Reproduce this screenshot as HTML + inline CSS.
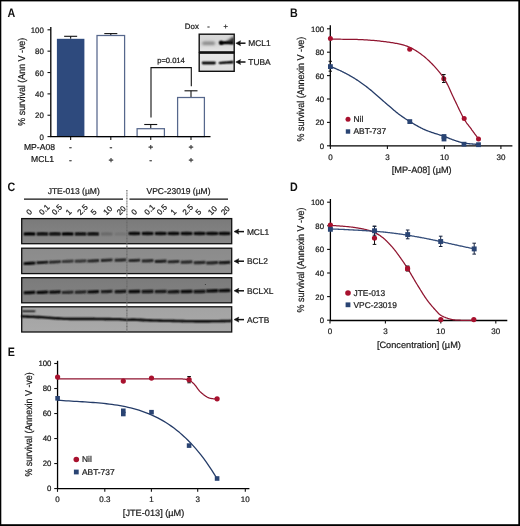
<!DOCTYPE html>
<html><head><meta charset="utf-8"><style>
html,body{margin:0;padding:0;background:#fff;width:520px;height:526px;overflow:hidden;}
svg{display:block;will-change:transform;}
text{font-family:"Liberation Sans", sans-serif;text-rendering:geometricPrecision;}
.t{stroke:#1a1a1a;stroke-width:0.22px;paint-order:stroke;}
</style></head><body>
<svg width="520" height="526" viewBox="0 0 520 526">
<rect x="0" y="0" width="520" height="526" fill="#fff"/>
<text x="0" y="0" font-size="12.3" font-weight="bold" fill="#111" transform="translate(7.50,17.20) scale(0.87,1)">A</text>
<line x1="50.80" y1="26.90" x2="50.80" y2="136.60" stroke="#000" stroke-width="1.3"/>
<line x1="47.50" y1="136.60" x2="50.80" y2="136.60" stroke="#111" stroke-width="1.1"/>
<text x="43.90" y="139.80" font-size="7.9" text-anchor="end" font-weight="normal" fill="#1a1a1a" class="t" >0</text>
<line x1="47.50" y1="115.24" x2="50.80" y2="115.24" stroke="#111" stroke-width="1.1"/>
<text x="43.90" y="118.44" font-size="7.9" text-anchor="end" font-weight="normal" fill="#1a1a1a" class="t" >20</text>
<line x1="47.50" y1="93.88" x2="50.80" y2="93.88" stroke="#111" stroke-width="1.1"/>
<text x="43.90" y="97.08" font-size="7.9" text-anchor="end" font-weight="normal" fill="#1a1a1a" class="t" >40</text>
<line x1="47.50" y1="72.52" x2="50.80" y2="72.52" stroke="#111" stroke-width="1.1"/>
<text x="43.90" y="75.72" font-size="7.9" text-anchor="end" font-weight="normal" fill="#1a1a1a" class="t" >60</text>
<line x1="47.50" y1="51.16" x2="50.80" y2="51.16" stroke="#111" stroke-width="1.1"/>
<text x="43.90" y="54.36" font-size="7.9" text-anchor="end" font-weight="normal" fill="#1a1a1a" class="t" >80</text>
<line x1="47.50" y1="29.80" x2="50.80" y2="29.80" stroke="#111" stroke-width="1.1"/>
<text x="43.90" y="33.00" font-size="7.9" text-anchor="end" font-weight="normal" fill="#1a1a1a" class="t" >100</text>
<text x="0" y="0" font-size="9.9" text-anchor="middle" fill="#1a1a1a" class="t" transform="translate(22.40,81.70) rotate(-90) scale(0.9,1)" dominant-baseline="central">% survival (Ann V -ve)</text>
<line x1="70.65" y1="36.30" x2="70.65" y2="38.80" stroke="#111" stroke-width="1.1"/>
<line x1="64.15" y1="36.30" x2="77.15" y2="36.30" stroke="#111" stroke-width="1.1"/>
<rect x="56.90" y="38.80" width="27.50" height="97.80" fill="#2e4a7d" stroke="none" stroke-width="0" />
<line x1="70.65" y1="136.60" x2="70.65" y2="139.90" stroke="#111" stroke-width="1.1"/>
<line x1="110.80" y1="33.60" x2="110.80" y2="35.00" stroke="#111" stroke-width="1.1"/>
<line x1="104.30" y1="33.60" x2="117.30" y2="33.60" stroke="#111" stroke-width="1.1"/>
<rect x="97.00" y="35.50" width="27.60" height="101.10" fill="#fff" stroke="#56678c" stroke-width="1.25" />
<line x1="110.80" y1="136.60" x2="110.80" y2="139.90" stroke="#111" stroke-width="1.1"/>
<line x1="150.75" y1="124.50" x2="150.75" y2="128.20" stroke="#111" stroke-width="1.1"/>
<line x1="144.25" y1="124.50" x2="157.25" y2="124.50" stroke="#111" stroke-width="1.1"/>
<rect x="137.10" y="128.70" width="27.30" height="7.90" fill="#fff" stroke="#56678c" stroke-width="1.25" />
<line x1="150.75" y1="136.60" x2="150.75" y2="139.90" stroke="#111" stroke-width="1.1"/>
<line x1="191.00" y1="90.80" x2="191.00" y2="97.00" stroke="#111" stroke-width="1.1"/>
<line x1="184.50" y1="90.80" x2="197.50" y2="90.80" stroke="#111" stroke-width="1.1"/>
<rect x="177.60" y="97.50" width="26.80" height="39.10" fill="#fff" stroke="#56678c" stroke-width="1.25" />
<line x1="191.00" y1="136.60" x2="191.00" y2="139.90" stroke="#111" stroke-width="1.1"/>
<line x1="50.20" y1="136.60" x2="210.50" y2="136.60" stroke="#000" stroke-width="1.3"/>
<path d="M151,117.5 V67.6 H191.3 V86.2" fill="none" stroke="#111" stroke-width="1.1"/>
<text x="171.00" y="63.30" font-size="7.6" text-anchor="middle" font-weight="normal" fill="#1a1a1a" class="t" >p=0.014</text>
<text x="55.00" y="149.90" font-size="8.6" text-anchor="end" font-weight="normal" fill="#1a1a1a" class="t" >MP-A08</text>
<text x="54.00" y="162.00" font-size="8.6" text-anchor="end" font-weight="normal" fill="#1a1a1a" class="t" >MCL1</text>
<text x="70.45" y="149.90" font-size="8.6" text-anchor="middle" font-weight="normal" fill="#1a1a1a" class="t" >-</text>
<text x="70.45" y="162.60" font-size="8.6" text-anchor="middle" font-weight="normal" fill="#1a1a1a" class="t" >-</text>
<text x="111.00" y="149.90" font-size="8.6" text-anchor="middle" font-weight="normal" fill="#1a1a1a" class="t" >-</text>
<text x="111.00" y="162.60" font-size="8.6" text-anchor="middle" font-weight="normal" fill="#1a1a1a" class="t" >+</text>
<text x="150.75" y="149.90" font-size="8.6" text-anchor="middle" font-weight="normal" fill="#1a1a1a" class="t" >+</text>
<text x="150.75" y="162.60" font-size="8.6" text-anchor="middle" font-weight="normal" fill="#1a1a1a" class="t" >-</text>
<text x="191.00" y="149.90" font-size="8.6" text-anchor="middle" font-weight="normal" fill="#1a1a1a" class="t" >+</text>
<text x="191.00" y="162.60" font-size="8.6" text-anchor="middle" font-weight="normal" fill="#1a1a1a" class="t" >+</text>
<text x="184.80" y="29.10" font-size="7.9" text-anchor="start" font-weight="normal" fill="#1a1a1a" class="t" >Dox</text>
<text x="208.60" y="29.00" font-size="7.5" text-anchor="middle" font-weight="normal" fill="#1a1a1a" class="t" >-</text>
<text x="225.60" y="29.30" font-size="7.5" text-anchor="middle" font-weight="normal" fill="#1a1a1a" class="t" >+</text>
<defs><linearGradient id="gA1" x1="0" y1="0" x2="0" y2="1"><stop offset="0" stop-color="#d9d9d9"/><stop offset="0.55" stop-color="#d6d6d6"/><stop offset="1" stop-color="#e6e6e6"/></linearGradient><linearGradient id="gA2" x1="0" y1="0" x2="0" y2="1"><stop offset="0" stop-color="#e6e6e6"/><stop offset="1" stop-color="#dedede"/></linearGradient><filter id="bl1" x="-20%" y="-100%" width="140%" height="300%"><feConvolveMatrix order="3" kernelMatrix="1 2 1 2 4 2 1 2 1" divisor="16" edgeMode="none"/></filter><filter id="bl2" x="-20%" y="-100%" width="140%" height="300%"><feConvolveMatrix order="3" kernelMatrix="1 2 1 2 4 2 1 2 1" divisor="16" edgeMode="none"/></filter><filter id="bl3" x="-20%" y="-100%" width="140%" height="300%"><feGaussianBlur stdDeviation="0.9"/></filter><filter id="bl05" x="-20%" y="-100%" width="140%" height="300%"><feConvolveMatrix order="3" kernelMatrix="1 2 1 2 4 2 1 2 1" divisor="16" edgeMode="none"/></filter><filter id="soft2" x="-20%" y="-100%" width="140%" height="300%"><feConvolveMatrix order="5" kernelMatrix="1 4 6 4 1 4 16 24 16 4 6 24 36 24 6 4 16 24 16 4 1 4 6 4 1" divisor="256" edgeMode="none"/></filter></defs>
<rect x="199.20" y="34.20" width="35.00" height="17.90" fill="url(#gA1)" stroke="#111" stroke-width="1.4" />
<rect x="199.20" y="53.00" width="35.00" height="18.30" fill="url(#gA2)" stroke="#111" stroke-width="1.4" />
<line x1="199.00" y1="52.40" x2="234.60" y2="52.40" stroke="#111" stroke-width="2.0"/>
<g filter="url(#bl2)"><rect x="202.2" y="41.5" width="12.8" height="3.6" rx="1.6" fill="#888" filter="url(#soft2)"/><path d="M218.8,42.7 C218.8,40.0 221.8,40.0 223.2,41.2 C226,41.5 229,41.0 231,39.6 L233.6,37.4 L233.6,44.4 C229,44.5 226,44.2 223.2,44.4 C221.8,45.6 218.8,45.4 218.8,42.7Z" fill="#000"/><path d="M224,41.6 C228,41 230.5,38.5 233.6,35.8 L233.6,41.5Z" fill="#444" filter="url(#soft2)"/></g>
<g filter="url(#bl1)"><rect x="201.8" y="61.5" width="14" height="2.9" rx="1.3" fill="#111"/><path d="M218.6,63.1 C218.6,61.7 220,61.6 224,61.4 C228,61.1 231,60.8 233.4,60.7 L233.4,63.5 C231,63.6 228,63.8 224,64.0 C220,64.2 218.6,64.4 218.6,63.1Z" fill="#0a0a0a"/></g>
<line x1="238.30" y1="43.20" x2="245.50" y2="43.20" stroke="#111" stroke-width="1.5"/>
<path d="M235.80,43.20 L240.60,40.70 L239.80,43.20 L240.60,45.70Z" fill="#111" stroke="#111" stroke-width="0.5" stroke-linejoin="round"/>
<line x1="238.30" y1="62.00" x2="245.50" y2="62.00" stroke="#111" stroke-width="1.5"/>
<path d="M235.80,62.00 L240.60,59.50 L239.80,62.00 L240.60,64.50Z" fill="#111" stroke="#111" stroke-width="0.5" stroke-linejoin="round"/>
<text x="248.30" y="45.90" font-size="8.4" text-anchor="start" font-weight="normal" fill="#1a1a1a" class="t" >MCL1</text>
<text x="248.30" y="64.80" font-size="8.4" text-anchor="start" font-weight="normal" fill="#1a1a1a" class="t" >TUBA</text>
<text x="0" y="0" font-size="12.3" font-weight="bold" fill="#111" transform="translate(289.90,17.10) scale(0.87,1)">B</text>
<line x1="330.30" y1="25.20" x2="330.30" y2="145.80" stroke="#000" stroke-width="1.3"/>
<line x1="327.00" y1="145.80" x2="330.30" y2="145.80" stroke="#111" stroke-width="1.1"/>
<text x="324.10" y="148.70" font-size="7.8" text-anchor="end" font-weight="normal" fill="#1a1a1a" class="t" >0</text>
<line x1="327.00" y1="122.40" x2="330.30" y2="122.40" stroke="#111" stroke-width="1.1"/>
<text x="324.10" y="125.30" font-size="7.8" text-anchor="end" font-weight="normal" fill="#1a1a1a" class="t" >20</text>
<line x1="327.00" y1="99.00" x2="330.30" y2="99.00" stroke="#111" stroke-width="1.1"/>
<text x="324.10" y="101.90" font-size="7.8" text-anchor="end" font-weight="normal" fill="#1a1a1a" class="t" >40</text>
<line x1="327.00" y1="75.60" x2="330.30" y2="75.60" stroke="#111" stroke-width="1.1"/>
<text x="324.10" y="78.50" font-size="7.8" text-anchor="end" font-weight="normal" fill="#1a1a1a" class="t" >60</text>
<line x1="327.00" y1="52.20" x2="330.30" y2="52.20" stroke="#111" stroke-width="1.1"/>
<text x="324.10" y="55.10" font-size="7.8" text-anchor="end" font-weight="normal" fill="#1a1a1a" class="t" >80</text>
<line x1="327.00" y1="28.80" x2="330.30" y2="28.80" stroke="#111" stroke-width="1.1"/>
<text x="324.10" y="31.70" font-size="7.8" text-anchor="end" font-weight="normal" fill="#1a1a1a" class="t" >100</text>
<text x="0" y="0" font-size="9.9" text-anchor="middle" fill="#1a1a1a" class="t" transform="translate(301.90,89.10) rotate(-90) scale(0.905,1)" dominant-baseline="central">% survival (Annexin V -ve)</text>
<line x1="329.60" y1="145.80" x2="512.40" y2="145.80" stroke="#000" stroke-width="1.3"/>
<line x1="330.40" y1="145.80" x2="330.40" y2="149.10" stroke="#111" stroke-width="1.1"/>
<text x="330.40" y="159.60" font-size="8.0" text-anchor="middle" font-weight="normal" fill="#1a1a1a" class="t" >0</text>
<line x1="387.40" y1="145.80" x2="387.40" y2="149.10" stroke="#111" stroke-width="1.1"/>
<text x="387.40" y="159.60" font-size="8.0" text-anchor="middle" font-weight="normal" fill="#1a1a1a" class="t" >3</text>
<line x1="444.40" y1="145.80" x2="444.40" y2="149.10" stroke="#111" stroke-width="1.1"/>
<text x="444.40" y="159.60" font-size="8.0" text-anchor="middle" font-weight="normal" fill="#1a1a1a" class="t" >10</text>
<line x1="500.90" y1="145.80" x2="500.90" y2="149.10" stroke="#111" stroke-width="1.1"/>
<text x="500.90" y="159.60" font-size="8.0" text-anchor="middle" font-weight="normal" fill="#1a1a1a" class="t" >30</text>
<text x="421.70" y="173.40" font-size="9.2" text-anchor="middle" font-weight="normal" fill="#1a1a1a" class="t" >[MP-A08] (µM)</text>
<path d="M330.00,39.20 L330.83,39.21 L331.80,39.22 L332.91,39.22 L334.14,39.22 L335.47,39.23 L336.91,39.23 L338.42,39.23 L340.01,39.24 L341.65,39.25 L343.34,39.26 L345.07,39.27 L346.81,39.28 L348.56,39.30 L350.31,39.33 L352.04,39.36 L353.74,39.39 L355.40,39.43 L357.01,39.48 L358.54,39.54 L360.00,39.60 L361.41,39.67 L362.81,39.74 L364.21,39.82 L365.60,39.90 L366.99,39.99 L368.36,40.07 L369.73,40.17 L371.09,40.27 L372.44,40.37 L373.78,40.48 L375.11,40.60 L376.43,40.72 L377.73,40.84 L379.03,40.97 L380.31,41.11 L381.58,41.26 L382.83,41.41 L384.07,41.56 L385.29,41.73 L386.50,41.90 L387.69,42.07 L388.87,42.24 L390.02,42.41 L391.17,42.57 L392.30,42.74 L393.41,42.90 L394.51,43.08 L395.60,43.26 L396.68,43.45 L397.75,43.64 L398.81,43.85 L399.86,44.08 L400.90,44.32 L401.93,44.58 L402.95,44.86 L403.97,45.15 L404.99,45.48 L405.99,45.82 L407.00,46.20 L408.00,46.60 L408.99,47.03 L409.98,47.47 L410.95,47.94 L411.92,48.42 L412.87,48.92 L413.82,49.44 L414.76,49.98 L415.69,50.53 L416.61,51.11 L417.53,51.70 L418.44,52.31 L419.35,52.94 L420.26,53.58 L421.15,54.25 L422.05,54.93 L422.94,55.63 L423.83,56.35 L424.72,57.08 L425.61,57.83 L426.50,58.60 L427.39,59.39 L428.29,60.22 L429.20,61.07 L430.11,61.95 L431.02,62.86 L431.93,63.78 L432.84,64.73 L433.74,65.69 L434.64,66.67 L435.53,67.66 L436.41,68.66 L437.28,69.66 L438.13,70.67 L438.96,71.69 L439.78,72.70 L440.57,73.72 L441.34,74.72 L442.09,75.73 L442.81,76.72 L443.50,77.70 L444.16,78.68 L444.78,79.66 L445.38,80.64 L445.95,81.62 L446.49,82.61 L447.01,83.60 L447.52,84.59 L448.00,85.58 L448.48,86.57 L448.94,87.57 L449.39,88.57 L449.84,89.57 L450.28,90.57 L450.72,91.57 L451.16,92.57 L451.61,93.58 L452.07,94.58 L452.53,95.59 L453.01,96.59 L453.50,97.60 L454.00,98.62 L454.51,99.66 L455.02,100.73 L455.54,101.80 L456.06,102.89 L456.58,103.99 L457.10,105.09 L457.62,106.19 L458.14,107.29 L458.66,108.37 L459.17,109.45 L459.68,110.51 L460.18,111.56 L460.68,112.58 L461.18,113.57 L461.66,114.53 L462.14,115.46 L462.60,116.35 L463.06,117.20 L463.50,118.00 L463.93,118.75 L464.35,119.47 L464.76,120.14 L465.16,120.77 L465.56,121.38 L465.94,121.95 L466.32,122.49 L466.69,123.02 L467.06,123.52 L467.42,124.01 L467.78,124.48 L468.13,124.94 L468.49,125.40 L468.84,125.85 L469.20,126.31 L469.55,126.77 L469.91,127.23 L470.27,127.71 L470.63,128.19 L471.00,128.70 L471.38,129.22 L471.77,129.77 L472.18,130.32 L472.59,130.89 L473.01,131.46 L473.43,132.04 L473.86,132.62 L474.28,133.19 L474.71,133.76 L475.12,134.32 L475.52,134.86 L475.92,135.39 L476.29,135.90 L476.65,136.38 L476.99,136.84 L477.31,137.27 L477.60,137.66 L477.87,138.01 L478.10,138.33 L478.30,138.60" fill="none" stroke="#901530" stroke-width="1.25" stroke-linejoin="round" stroke-linecap="round"/>
<path d="M330.00,66.30 L330.33,66.44 L330.71,66.60 L331.13,66.77 L331.60,66.97 L332.11,67.18 L332.66,67.40 L333.24,67.64 L333.85,67.89 L334.48,68.15 L335.14,68.42 L335.81,68.70 L336.49,68.99 L337.19,69.29 L337.89,69.59 L338.59,69.90 L339.29,70.22 L339.99,70.53 L340.67,70.86 L341.35,71.18 L342.00,71.50 L342.65,71.83 L343.31,72.16 L343.97,72.49 L344.64,72.84 L345.31,73.19 L346.00,73.54 L346.68,73.91 L347.37,74.28 L348.07,74.65 L348.76,75.03 L349.46,75.42 L350.16,75.81 L350.87,76.21 L351.57,76.62 L352.28,77.03 L352.99,77.45 L353.69,77.88 L354.40,78.31 L355.10,78.75 L355.80,79.20 L356.50,79.65 L357.19,80.11 L357.89,80.57 L358.58,81.03 L359.27,81.50 L359.96,81.97 L360.65,82.45 L361.34,82.94 L362.03,83.44 L362.73,83.94 L363.43,84.45 L364.14,84.97 L364.84,85.50 L365.56,86.03 L366.28,86.58 L367.01,87.14 L367.74,87.71 L368.49,88.30 L369.24,88.89 L370.00,89.50 L370.78,90.13 L371.58,90.79 L372.40,91.47 L373.23,92.18 L374.08,92.90 L374.94,93.64 L375.80,94.39 L376.67,95.15 L377.55,95.92 L378.42,96.69 L379.29,97.46 L380.15,98.22 L381.00,98.98 L381.85,99.72 L382.67,100.45 L383.48,101.17 L384.27,101.87 L385.04,102.54 L385.79,103.18 L386.50,103.80 L387.19,104.39 L387.85,104.96 L388.49,105.52 L389.12,106.06 L389.72,106.59 L390.31,107.10 L390.89,107.61 L391.46,108.10 L392.01,108.58 L392.56,109.05 L393.10,109.51 L393.63,109.97 L394.17,110.42 L394.70,110.87 L395.24,111.31 L395.77,111.75 L396.32,112.19 L396.87,112.62 L397.43,113.06 L398.00,113.50 L398.57,113.94 L399.14,114.36 L399.70,114.78 L400.25,115.19 L400.80,115.59 L401.35,115.99 L401.90,116.38 L402.45,116.77 L403.00,117.15 L403.56,117.53 L404.12,117.91 L404.68,118.29 L405.26,118.67 L405.84,119.05 L406.43,119.43 L407.04,119.82 L407.65,120.21 L408.29,120.60 L408.93,121.00 L409.60,121.40 L410.28,121.81 L410.97,122.23 L411.67,122.65 L412.39,123.08 L413.11,123.51 L413.84,123.95 L414.59,124.38 L415.34,124.82 L416.10,125.26 L416.87,125.69 L417.65,126.13 L418.43,126.56 L419.23,126.99 L420.03,127.41 L420.84,127.83 L421.66,128.24 L422.49,128.64 L423.32,129.04 L424.16,129.42 L425.00,129.80 L425.86,130.17 L426.76,130.53 L427.67,130.89 L428.61,131.24 L429.57,131.59 L430.54,131.93 L431.52,132.27 L432.51,132.60 L433.50,132.93 L434.49,133.26 L435.48,133.57 L436.46,133.89 L437.42,134.19 L438.37,134.50 L439.29,134.79 L440.20,135.09 L441.07,135.37 L441.92,135.65 L442.73,135.93 L443.50,136.20 L444.23,136.46 L444.94,136.72 L445.62,136.97 L446.27,137.22 L446.90,137.46 L447.51,137.69 L448.10,137.92 L448.68,138.15 L449.23,138.37 L449.78,138.58 L450.32,138.79 L450.84,139.00 L451.36,139.20 L451.88,139.39 L452.39,139.59 L452.91,139.78 L453.42,139.96 L453.94,140.14 L454.47,140.32 L455.00,140.50 L455.53,140.67 L456.04,140.84 L456.54,141.01 L457.04,141.16 L457.52,141.32 L457.99,141.47 L458.46,141.62 L458.93,141.76 L459.39,141.90 L459.86,142.04 L460.32,142.17 L460.80,142.30 L461.28,142.42 L461.77,142.54 L462.27,142.66 L462.78,142.78 L463.31,142.89 L463.85,142.99 L464.42,143.10 L465.00,143.20 L465.62,143.30 L466.29,143.39 L467.00,143.48 L467.74,143.57 L468.51,143.65 L469.30,143.73 L470.10,143.81 L470.91,143.88 L471.72,143.95 L472.52,144.02 L473.32,144.08 L474.09,144.14 L474.84,144.20 L475.55,144.25 L476.23,144.30 L476.86,144.35 L477.44,144.39 L477.96,144.43 L478.42,144.47 L478.80,144.50" fill="none" stroke="#253c68" stroke-width="1.3" stroke-linejoin="round" stroke-linecap="round"/>
<circle cx="330.40" cy="38.60" r="2.5" fill="#a8112e"/>
<circle cx="409.70" cy="49.30" r="2.5" fill="#a8112e"/>
<circle cx="443.80" cy="78.80" r="2.5" fill="#a8112e"/>
<circle cx="464.20" cy="118.60" r="2.5" fill="#a8112e"/>
<circle cx="478.50" cy="138.90" r="2.5" fill="#a8112e"/>
<line x1="443.80" y1="74.50" x2="443.80" y2="82.50" stroke="#111" stroke-width="1.0"/>
<line x1="442.00" y1="74.50" x2="445.60" y2="74.50" stroke="#111" stroke-width="1.0"/>
<line x1="442.00" y1="82.50" x2="445.60" y2="82.50" stroke="#111" stroke-width="1.0"/>
<line x1="330.30" y1="61.30" x2="330.30" y2="71.20" stroke="#111" stroke-width="1.0"/>
<line x1="328.60" y1="61.30" x2="332.00" y2="61.30" stroke="#111" stroke-width="1.0"/>
<line x1="328.60" y1="71.20" x2="332.00" y2="71.20" stroke="#111" stroke-width="1.0"/>
<rect x="328.00" y="64.20" width="4.80" height="4.80" fill="#2a4473" stroke="none" stroke-width="0" />
<rect x="407.40" y="119.20" width="4.80" height="4.80" fill="#2a4473" stroke="none" stroke-width="0" />
<rect x="441.60" y="134.10" width="4.80" height="4.80" fill="#2a4473" stroke="none" stroke-width="0" />
<rect x="441.60" y="136.60" width="4.80" height="4.80" fill="#2a4473" stroke="none" stroke-width="0" />
<rect x="461.60" y="141.80" width="4.80" height="4.80" fill="#2a4473" stroke="none" stroke-width="0" />
<rect x="476.10" y="142.30" width="4.80" height="4.80" fill="#2a4473" stroke="none" stroke-width="0" />
<circle cx="348.00" cy="119.30" r="2.5" fill="#a8112e"/>
<text x="353.50" y="122.20" font-size="8.4" text-anchor="start" font-weight="normal" fill="#1a1a1a" class="t" >Nil</text>
<rect x="345.80" y="129.30" width="4.40" height="4.40" fill="#2a4473" stroke="none" stroke-width="0" />
<text x="353.50" y="134.40" font-size="8.4" text-anchor="start" font-weight="normal" fill="#1a1a1a" class="t" >ABT-737</text>
<text x="0" y="0" font-size="12.3" font-weight="bold" fill="#111" transform="translate(7.60,190.90) scale(0.87,1)">C</text>
<text x="73.70" y="194.00" font-size="8.5" text-anchor="middle" font-weight="normal" fill="#1a1a1a" class="t" >JTE-013 (µM)</text>
<text x="178.50" y="193.80" font-size="8.5" text-anchor="middle" font-weight="normal" fill="#1a1a1a" class="t" >VPC-23019 (µM)</text>
<line x1="24.00" y1="199.20" x2="123.00" y2="199.20" stroke="#111" stroke-width="1.2"/>
<line x1="129.50" y1="199.20" x2="228.00" y2="199.20" stroke="#111" stroke-width="1.2"/>
<text x="0" y="0" font-size="8.0" fill="#1a1a1a" class="t" transform="translate(29.40,215.4) rotate(-45)">0</text>
<text x="0" y="0" font-size="8.0" fill="#1a1a1a" class="t" transform="translate(42.30,215.4) rotate(-45)">0.1</text>
<text x="0" y="0" font-size="8.0" fill="#1a1a1a" class="t" transform="translate(54.90,215.4) rotate(-45)">0.5</text>
<text x="0" y="0" font-size="8.0" fill="#1a1a1a" class="t" transform="translate(69.10,215.4) rotate(-45)">1</text>
<text x="0" y="0" font-size="8.0" fill="#1a1a1a" class="t" transform="translate(80.50,215.4) rotate(-45)">2.5</text>
<text x="0" y="0" font-size="8.0" fill="#1a1a1a" class="t" transform="translate(94.10,215.4) rotate(-45)">5</text>
<text x="0" y="0" font-size="8.0" fill="#1a1a1a" class="t" transform="translate(106.60,215.4) rotate(-45)">10</text>
<text x="0" y="0" font-size="8.0" fill="#1a1a1a" class="t" transform="translate(120.10,215.4) rotate(-45)">20</text>
<text x="0" y="0" font-size="8.0" fill="#1a1a1a" class="t" transform="translate(134.60,215.4) rotate(-45)">0</text>
<text x="0" y="0" font-size="8.0" fill="#1a1a1a" class="t" transform="translate(147.60,215.4) rotate(-45)">0.1</text>
<text x="0" y="0" font-size="8.0" fill="#1a1a1a" class="t" transform="translate(159.90,215.4) rotate(-45)">0.5</text>
<text x="0" y="0" font-size="8.0" fill="#1a1a1a" class="t" transform="translate(173.70,215.4) rotate(-45)">1</text>
<text x="0" y="0" font-size="8.0" fill="#1a1a1a" class="t" transform="translate(185.80,215.4) rotate(-45)">2.5</text>
<text x="0" y="0" font-size="8.0" fill="#1a1a1a" class="t" transform="translate(198.80,215.4) rotate(-45)">5</text>
<text x="0" y="0" font-size="8.0" fill="#1a1a1a" class="t" transform="translate(211.30,215.4) rotate(-45)">10</text>
<text x="0" y="0" font-size="8.0" fill="#1a1a1a" class="t" transform="translate(224.20,215.4) rotate(-45)">20</text>
<defs>
<linearGradient id="gb0" x1="0" y1="0" x2="0" y2="1"><stop offset="0" stop-color="#7a7a7a"/><stop offset="1" stop-color="#878787"/></linearGradient>
<linearGradient id="gb1" x1="0" y1="0" x2="0" y2="1"><stop offset="0" stop-color="#8b8b8b"/><stop offset="1" stop-color="#919191"/></linearGradient>
<linearGradient id="gb2" x1="0" y1="0" x2="0" y2="1"><stop offset="0" stop-color="#7b7b7b"/><stop offset="1" stop-color="#838383"/></linearGradient>
<linearGradient id="gb3" x1="0" y1="0" x2="0" y2="1"><stop offset="0" stop-color="#a3a3a3"/><stop offset="1" stop-color="#a9a9a9"/></linearGradient>
</defs>
<rect x="21.70" y="218.60" width="210.00" height="25.10" fill="url(#gb0)" stroke="#111" stroke-width="1.3" />
<rect x="21.70" y="248.20" width="210.00" height="25.40" fill="url(#gb1)" stroke="#111" stroke-width="1.3" />
<rect x="21.70" y="277.70" width="210.00" height="25.10" fill="url(#gb2)" stroke="#111" stroke-width="1.3" />
<rect x="21.70" y="306.80" width="210.00" height="25.20" fill="url(#gb3)" stroke="#111" stroke-width="1.3" />
<g filter="url(#bl05)">
<path d="M23.80,232.40 Q29.50,232.10 35.20,232.40 L35.20,235.40 Q29.50,235.70 23.80,235.40Z" fill="#050505" opacity="1.0"/>
<path d="M36.70,232.40 Q42.40,232.10 48.10,232.40 L48.10,235.40 Q42.40,235.70 36.70,235.40Z" fill="#080808" opacity="1.0"/>
<path d="M49.30,232.40 Q55.00,232.10 60.70,232.40 L60.70,235.40 Q55.00,235.70 49.30,235.40Z" fill="#080808" opacity="1.0"/>
<path d="M62.00,232.40 Q67.70,232.10 73.40,232.40 L73.40,235.40 Q67.70,235.70 62.00,235.40Z" fill="#060606" opacity="1.0"/>
<path d="M74.90,232.40 Q80.60,232.10 86.30,232.40 L86.30,235.40 Q80.60,235.70 74.90,235.40Z" fill="#0a0a0a" opacity="1.0"/>
<path d="M87.50,232.40 Q93.20,232.10 98.90,232.40 L98.90,235.40 Q93.20,235.70 87.50,235.40Z" fill="#080808" opacity="1.0"/>
<path d="M101.00,232.40 Q106.70,232.10 112.40,232.40 L112.40,235.40 Q106.70,235.70 101.00,235.40Z" fill="#6a6a6a" opacity="1.0"/>
<path d="M114.80,232.40 Q120.50,232.10 126.20,232.40 L126.20,235.40 Q120.50,235.70 114.80,235.40Z" fill="#767676" opacity="1.0"/>
<path d="M128.60,232.00 Q134.30,231.70 140.00,232.00 L140.00,235.00 Q134.30,235.30 128.60,235.00Z" fill="#080808" opacity="1.0"/>
<path d="M141.90,232.00 Q147.60,231.70 153.30,232.00 L153.30,235.00 Q147.60,235.30 141.90,235.00Z" fill="#080808" opacity="1.0"/>
<path d="M155.00,232.00 Q160.70,231.70 166.40,232.00 L166.40,235.00 Q160.70,235.30 155.00,235.00Z" fill="#080808" opacity="1.0"/>
<path d="M167.80,232.00 Q173.50,231.70 179.20,232.00 L179.20,235.00 Q173.50,235.30 167.80,235.00Z" fill="#080808" opacity="1.0"/>
<path d="M180.90,232.00 Q186.60,231.70 192.30,232.00 L192.30,235.00 Q186.60,235.30 180.90,235.00Z" fill="#080808" opacity="1.0"/>
<path d="M193.90,232.00 Q199.60,231.70 205.30,232.00 L205.30,235.00 Q199.60,235.30 193.90,235.00Z" fill="#080808" opacity="1.0"/>
<path d="M206.40,232.00 Q212.10,231.70 217.80,232.00 L217.80,235.00 Q212.10,235.30 206.40,235.00Z" fill="#080808" opacity="1.0"/>
<path d="M218.80,232.00 Q224.50,231.70 230.20,232.00 L230.20,235.00 Q224.50,235.30 218.80,235.00Z" fill="#080808" opacity="1.0"/>
<path d="M23.70,262.15 Q29.50,261.55 35.30,261.55 L35.30,264.45 Q29.50,265.05 23.70,265.05Z" fill="#111" opacity="1.0"/>
<path d="M36.60,261.25 Q42.40,260.65 48.20,260.65 L48.20,263.55 Q42.40,264.15 36.60,264.15Z" fill="#1c1c1c" opacity="1.0"/>
<path d="M49.20,260.75 Q55.00,260.15 60.80,260.15 L60.80,263.05 Q55.00,263.65 49.20,263.65Z" fill="#2c2c2c" opacity="1.0"/>
<path d="M61.90,260.15 Q67.70,259.55 73.50,259.55 L73.50,262.45 Q67.70,263.05 61.90,263.05Z" fill="#3a3a3a" opacity="1.0"/>
<path d="M74.80,259.85 Q80.60,259.25 86.40,259.25 L86.40,262.15 Q80.60,262.75 74.80,262.75Z" fill="#383838" opacity="1.0"/>
<path d="M87.40,259.65 Q93.20,259.05 99.00,259.05 L99.00,261.95 Q93.20,262.55 87.40,262.55Z" fill="#2a2a2a" opacity="1.0"/>
<path d="M100.90,259.05 Q106.70,258.45 112.50,258.45 L112.50,261.35 Q106.70,261.95 100.90,261.95Z" fill="#262626" opacity="1.0"/>
<path d="M114.70,258.85 Q120.50,258.25 126.30,258.25 L126.30,261.15 Q120.50,261.75 114.70,261.75Z" fill="#2a2a2a" opacity="1.0"/>
<path d="M128.50,259.20 Q134.30,258.65 140.10,258.70 L140.10,261.60 Q134.30,262.15 128.50,262.10Z" fill="#262626" opacity="1.0"/>
<path d="M141.80,259.60 Q147.60,259.05 153.40,259.10 L153.40,262.00 Q147.60,262.55 141.80,262.50Z" fill="#2a2a2a" opacity="1.0"/>
<path d="M154.90,260.00 Q160.70,259.45 166.50,259.50 L166.50,262.40 Q160.70,262.95 154.90,262.90Z" fill="#222" opacity="1.0"/>
<path d="M167.70,260.40 Q173.50,259.85 179.30,259.90 L179.30,262.80 Q173.50,263.35 167.70,263.30Z" fill="#262626" opacity="1.0"/>
<path d="M180.80,260.80 Q186.60,260.25 192.40,260.30 L192.40,263.20 Q186.60,263.75 180.80,263.70Z" fill="#2c2c2c" opacity="1.0"/>
<path d="M193.80,261.30 Q199.60,260.75 205.40,260.80 L205.40,263.70 Q199.60,264.25 193.80,264.20Z" fill="#2a2a2a" opacity="1.0"/>
<path d="M206.30,261.50 Q212.10,260.95 217.90,261.00 L217.90,263.90 Q212.10,264.45 206.30,264.40Z" fill="#262626" opacity="1.0"/>
<path d="M218.70,261.30 Q224.50,260.75 230.30,260.80 L230.30,263.70 Q224.50,264.25 218.70,264.20Z" fill="#1c1c1c" opacity="1.0"/>
<path d="M23.80,291.25 Q29.50,290.70 35.20,290.75 L35.20,293.75 Q29.50,294.30 23.80,294.25Z" fill="#0c0c0c" opacity="1.0"/>
<path d="M36.70,291.05 Q42.40,290.50 48.10,290.55 L48.10,293.55 Q42.40,294.10 36.70,294.05Z" fill="#101010" opacity="1.0"/>
<path d="M49.30,290.75 Q55.00,290.20 60.70,290.25 L60.70,293.25 Q55.00,293.80 49.30,293.75Z" fill="#0e0e0e" opacity="1.0"/>
<path d="M62.00,291.05 Q67.70,290.50 73.40,290.55 L73.40,293.55 Q67.70,294.10 62.00,294.05Z" fill="#2a2a2a" opacity="1.0"/>
<path d="M74.90,290.85 Q80.60,290.30 86.30,290.35 L86.30,293.35 Q80.60,293.90 74.90,293.85Z" fill="#262626" opacity="1.0"/>
<path d="M87.50,290.55 Q93.20,290.00 98.90,290.05 L98.90,293.05 Q93.20,293.60 87.50,293.55Z" fill="#111" opacity="1.0"/>
<path d="M101.00,290.35 Q106.70,289.80 112.40,289.85 L112.40,292.85 Q106.70,293.40 101.00,293.35Z" fill="#1e1e1e" opacity="1.0"/>
<path d="M114.80,290.15 Q120.50,289.60 126.20,289.65 L126.20,292.65 Q120.50,293.20 114.80,293.15Z" fill="#141414" opacity="1.0"/>
<path d="M128.50,290.10 Q134.30,289.65 140.10,289.80 L140.10,292.90 Q134.30,293.35 128.50,293.20Z" fill="#101010" opacity="1.0"/>
<path d="M141.80,290.10 Q147.60,289.65 153.40,289.80 L153.40,292.90 Q147.60,293.35 141.80,293.20Z" fill="#121212" opacity="1.0"/>
<path d="M154.90,290.10 Q160.70,289.65 166.50,289.80 L166.50,292.90 Q160.70,293.35 154.90,293.20Z" fill="#1a1a1a" opacity="1.0"/>
<path d="M167.70,290.40 Q173.50,289.95 179.30,290.10 L179.30,293.20 Q173.50,293.65 167.70,293.50Z" fill="#121212" opacity="1.0"/>
<path d="M180.80,290.10 Q186.60,289.65 192.40,289.80 L192.40,292.90 Q186.60,293.35 180.80,293.20Z" fill="#111" opacity="1.0"/>
<path d="M193.80,290.10 Q199.60,289.65 205.40,289.80 L205.40,292.90 Q199.60,293.35 193.80,293.20Z" fill="#141414" opacity="1.0"/>
<path d="M206.30,289.40 Q212.10,288.95 217.90,289.10 L217.90,292.20 Q212.10,292.65 206.30,292.50Z" fill="#0c0c0c" opacity="1.0"/>
<path d="M218.70,289.20 Q224.50,288.75 230.30,288.90 L230.30,292.00 Q224.50,292.45 218.70,292.30Z" fill="#0c0c0c" opacity="1.0"/>
</g>
<g filter="url(#bl05)">
<path d="M22.50,316.40 L23.74,316.45 L25.50,316.51 L27.63,316.60 L30.00,316.70 L32.66,316.82 L35.66,316.96 L38.82,317.12 L42.00,317.30 L45.20,317.51 L48.50,317.75 L51.80,317.99 L55.00,318.20 L58.05,318.38 L61.00,318.55 L63.95,318.69 L67.00,318.80 L70.18,318.86 L73.44,318.89 L76.73,318.89 L80.00,318.90 L83.25,318.90 L86.50,318.89 L89.75,318.89 L93.00,318.90 L96.25,318.94 L99.50,318.99 L102.75,319.05 L106.00,319.10 L109.39,319.14 L112.88,319.18 L116.17,319.23 L119.00,319.30 L121.15,319.42 L122.81,319.58 L124.32,319.72 L126.00,319.80 L127.81,319.78 L129.62,319.69 L131.62,319.60 L134.00,319.60 L136.90,319.72 L140.19,319.92 L143.63,320.13 L147.00,320.30 L150.25,320.40 L153.50,320.48 L156.75,320.53 L160.00,320.60 L163.25,320.68 L166.50,320.75 L169.75,320.82 L173.00,320.90 L176.25,320.98 L179.50,321.06 L182.75,321.13 L186.00,321.20 L189.25,321.26 L192.50,321.32 L195.75,321.37 L199.00,321.40 L202.27,321.40 L205.56,321.37 L208.82,321.34 L212.00,321.30 L215.20,321.26 L218.41,321.21 L221.41,321.15 L224.00,321.10 L226.16,321.05 L228.00,320.99 L229.46,320.94 L230.50,320.90" fill="none" stroke="#0e0e0e" stroke-width="2.6" stroke-linejoin="round" stroke-linecap="round"/>
<rect x="22.3" y="310.3" width="13" height="1.9" fill="#2a2a2a" />
</g>
<circle cx="205.40" cy="284.50" r="0.6" fill="#333"/>
<line x1="126.9" y1="190" x2="126.9" y2="332.8" stroke="#666" stroke-width="1.2" stroke-dasharray="1,0.6"/>
<line x1="236.50" y1="231.60" x2="244.00" y2="231.60" stroke="#111" stroke-width="1.5"/>
<path d="M234.00,231.60 L238.80,229.10 L238.00,231.60 L238.80,234.10Z" fill="#111" stroke="#111" stroke-width="0.5" stroke-linejoin="round"/>
<text x="246.90" y="234.50" font-size="8.4" text-anchor="start" font-weight="normal" fill="#1a1a1a" class="t" >MCL1</text>
<line x1="236.50" y1="261.20" x2="244.00" y2="261.20" stroke="#111" stroke-width="1.5"/>
<path d="M234.00,261.20 L238.80,258.70 L238.00,261.20 L238.80,263.70Z" fill="#111" stroke="#111" stroke-width="0.5" stroke-linejoin="round"/>
<text x="246.90" y="264.10" font-size="8.4" text-anchor="start" font-weight="normal" fill="#1a1a1a" class="t" >BCL2</text>
<line x1="236.50" y1="290.80" x2="244.00" y2="290.80" stroke="#111" stroke-width="1.5"/>
<path d="M234.00,290.80 L238.80,288.30 L238.00,290.80 L238.80,293.30Z" fill="#111" stroke="#111" stroke-width="0.5" stroke-linejoin="round"/>
<text x="246.90" y="293.70" font-size="8.4" text-anchor="start" font-weight="normal" fill="#1a1a1a" class="t" >BCLXL</text>
<line x1="236.50" y1="319.60" x2="244.00" y2="319.60" stroke="#111" stroke-width="1.5"/>
<path d="M234.00,319.60 L238.80,317.10 L238.00,319.60 L238.80,322.10Z" fill="#111" stroke="#111" stroke-width="0.5" stroke-linejoin="round"/>
<text x="246.90" y="322.50" font-size="8.4" text-anchor="start" font-weight="normal" fill="#1a1a1a" class="t" >ACTB</text>
<text x="0" y="0" font-size="12.3" font-weight="bold" fill="#111" transform="translate(289.90,190.60) scale(0.87,1)">D</text>
<line x1="330.40" y1="199.00" x2="330.40" y2="320.20" stroke="#000" stroke-width="1.3"/>
<line x1="327.10" y1="320.20" x2="330.40" y2="320.20" stroke="#111" stroke-width="1.1"/>
<text x="324.00" y="323.10" font-size="7.8" text-anchor="end" font-weight="normal" fill="#1a1a1a" class="t" >0</text>
<line x1="327.10" y1="296.60" x2="330.40" y2="296.60" stroke="#111" stroke-width="1.1"/>
<text x="324.00" y="299.50" font-size="7.8" text-anchor="end" font-weight="normal" fill="#1a1a1a" class="t" >20</text>
<line x1="327.10" y1="273.00" x2="330.40" y2="273.00" stroke="#111" stroke-width="1.1"/>
<text x="324.00" y="275.90" font-size="7.8" text-anchor="end" font-weight="normal" fill="#1a1a1a" class="t" >40</text>
<line x1="327.10" y1="249.40" x2="330.40" y2="249.40" stroke="#111" stroke-width="1.1"/>
<text x="324.00" y="252.30" font-size="7.8" text-anchor="end" font-weight="normal" fill="#1a1a1a" class="t" >60</text>
<line x1="327.10" y1="225.80" x2="330.40" y2="225.80" stroke="#111" stroke-width="1.1"/>
<text x="324.00" y="228.70" font-size="7.8" text-anchor="end" font-weight="normal" fill="#1a1a1a" class="t" >80</text>
<line x1="327.10" y1="202.20" x2="330.40" y2="202.20" stroke="#111" stroke-width="1.1"/>
<text x="324.00" y="205.10" font-size="7.8" text-anchor="end" font-weight="normal" fill="#1a1a1a" class="t" >100</text>
<text x="0" y="0" font-size="9.9" text-anchor="middle" fill="#1a1a1a" class="t" transform="translate(301.90,260.00) rotate(-90) scale(0.905,1)" dominant-baseline="central">% survival (Annexin V -ve)</text>
<line x1="329.80" y1="320.50" x2="507.30" y2="320.50" stroke="#000" stroke-width="1.3"/>
<line x1="330.00" y1="320.20" x2="330.00" y2="323.50" stroke="#111" stroke-width="1.1"/>
<text x="330.00" y="334.00" font-size="8.0" text-anchor="middle" font-weight="normal" fill="#1a1a1a" class="t" >0</text>
<line x1="385.40" y1="320.20" x2="385.40" y2="323.50" stroke="#111" stroke-width="1.1"/>
<text x="385.40" y="334.00" font-size="8.0" text-anchor="middle" font-weight="normal" fill="#1a1a1a" class="t" >3</text>
<line x1="440.80" y1="320.20" x2="440.80" y2="323.50" stroke="#111" stroke-width="1.1"/>
<text x="440.80" y="334.00" font-size="8.0" text-anchor="middle" font-weight="normal" fill="#1a1a1a" class="t" >10</text>
<line x1="495.80" y1="320.20" x2="495.80" y2="323.50" stroke="#111" stroke-width="1.1"/>
<text x="495.80" y="334.00" font-size="8.0" text-anchor="middle" font-weight="normal" fill="#1a1a1a" class="t" >30</text>
<text x="418.90" y="348.30" font-size="9.2" text-anchor="middle" font-weight="normal" fill="#1a1a1a" class="t" >[Concentration] (µM)</text>
<path d="M330.00,225.30 L330.55,225.34 L331.21,225.39 L331.96,225.44 L332.80,225.50 L333.71,225.57 L334.69,225.63 L335.72,225.71 L336.80,225.78 L337.92,225.86 L339.06,225.94 L340.23,226.03 L341.40,226.12 L342.57,226.21 L343.74,226.30 L344.88,226.40 L346.00,226.50 L347.08,226.60 L348.11,226.70 L349.09,226.80 L350.00,226.90 L350.87,227.00 L351.73,227.11 L352.57,227.22 L353.40,227.33 L354.22,227.44 L355.02,227.56 L355.82,227.67 L356.60,227.79 L357.37,227.91 L358.12,228.04 L358.87,228.16 L359.60,228.29 L360.32,228.42 L361.02,228.56 L361.72,228.69 L362.40,228.83 L363.07,228.97 L363.73,229.11 L364.37,229.25 L365.00,229.40 L365.62,229.55 L366.21,229.70 L366.79,229.85 L367.35,230.00 L367.90,230.15 L368.43,230.30 L368.95,230.46 L369.46,230.62 L369.95,230.78 L370.44,230.94 L370.91,231.11 L371.38,231.28 L371.85,231.46 L372.30,231.63 L372.76,231.82 L373.21,232.00 L373.66,232.19 L374.10,232.39 L374.55,232.59 L375.00,232.80 L375.45,233.01 L375.89,233.23 L376.32,233.45 L376.74,233.67 L377.16,233.90 L377.58,234.13 L377.99,234.36 L378.39,234.60 L378.79,234.84 L379.19,235.09 L379.58,235.34 L379.97,235.59 L380.35,235.85 L380.74,236.12 L381.12,236.39 L381.50,236.66 L381.87,236.94 L382.25,237.22 L382.62,237.51 L383.00,237.80 L383.37,238.10 L383.75,238.41 L384.12,238.73 L384.50,239.06 L384.87,239.40 L385.24,239.74 L385.60,240.09 L385.97,240.44 L386.33,240.79 L386.69,241.15 L387.04,241.51 L387.39,241.87 L387.74,242.22 L388.08,242.58 L388.41,242.93 L388.74,243.28 L389.07,243.62 L389.39,243.95 L389.70,244.28 L390.00,244.60 L390.29,244.91 L390.58,245.21 L390.85,245.50 L391.11,245.79 L391.37,246.06 L391.62,246.34 L391.86,246.61 L392.10,246.88 L392.33,247.14 L392.56,247.41 L392.79,247.68 L393.02,247.96 L393.26,248.23 L393.49,248.52 L393.73,248.80 L393.97,249.10 L394.21,249.41 L394.47,249.73 L394.73,250.06 L395.00,250.40 L395.28,250.75 L395.56,251.12 L395.84,251.49 L396.13,251.86 L396.42,252.25 L396.71,252.64 L397.01,253.03 L397.30,253.44 L397.60,253.84 L397.91,254.26 L398.21,254.67 L398.52,255.10 L398.82,255.52 L399.13,255.95 L399.44,256.39 L399.75,256.83 L400.06,257.27 L400.38,257.71 L400.69,258.15 L401.00,258.60 L401.31,259.04 L401.61,259.48 L401.91,259.90 L402.21,260.32 L402.50,260.74 L402.79,261.16 L403.09,261.58 L403.38,262.01 L403.68,262.44 L403.98,262.88 L404.29,263.33 L404.60,263.80 L404.92,264.28 L405.25,264.78 L405.60,265.31 L405.95,265.85 L406.31,266.42 L406.69,267.02 L407.09,267.64 L407.50,268.30 L407.93,269.00 L408.38,269.74 L408.85,270.51 L409.33,271.32 L409.83,272.16 L410.35,273.03 L410.87,273.91 L411.40,274.82 L411.94,275.73 L412.48,276.66 L413.03,277.60 L413.58,278.53 L414.13,279.46 L414.67,280.39 L415.21,281.31 L415.75,282.21 L416.28,283.09 L416.80,283.96 L417.31,284.79 L417.80,285.60 L418.28,286.39 L418.76,287.17 L419.24,287.94 L419.71,288.70 L420.18,289.46 L420.64,290.21 L421.10,290.95 L421.55,291.69 L422.01,292.42 L422.46,293.14 L422.91,293.85 L423.37,294.55 L423.82,295.25 L424.27,295.94 L424.72,296.62 L425.17,297.29 L425.63,297.96 L426.08,298.61 L426.54,299.26 L427.00,299.90 L427.47,300.53 L427.94,301.17 L428.42,301.80 L428.91,302.42 L429.40,303.04 L429.90,303.66 L430.39,304.26 L430.89,304.86 L431.38,305.45 L431.87,306.03 L432.35,306.60 L432.83,307.15 L433.31,307.69 L433.77,308.22 L434.23,308.73 L434.67,309.22 L435.10,309.70 L435.52,310.15 L435.92,310.59 L436.30,311.00 L436.66,311.39 L437.00,311.75 L437.31,312.09 L437.60,312.41 L437.88,312.71 L438.14,313.00 L438.39,313.26 L438.63,313.51 L438.87,313.75 L439.11,313.98 L439.34,314.19 L439.58,314.40 L439.83,314.60 L440.09,314.80 L440.36,315.00 L440.64,315.19 L440.95,315.39 L441.27,315.59 L441.62,315.79 L442.00,316.00 L442.40,316.21 L442.83,316.42 L443.27,316.63 L443.72,316.84 L444.20,317.04 L444.68,317.25 L445.18,317.44 L445.69,317.64 L446.21,317.83 L446.73,318.01 L447.26,318.19 L447.79,318.37 L448.33,318.53 L448.86,318.70 L449.40,318.85 L449.93,319.00 L450.46,319.14 L450.98,319.27 L451.49,319.39 L452.00,319.50 L452.50,319.60 L452.99,319.69 L453.48,319.77 L453.97,319.84 L454.45,319.91 L454.94,319.96 L455.42,320.01 L455.90,320.05 L456.39,320.08 L456.88,320.11 L457.36,320.14 L457.86,320.16 L458.35,320.18 L458.85,320.20 L459.36,320.21 L459.87,320.23 L460.39,320.24 L460.92,320.26 L461.45,320.28 L462.00,320.30 L462.57,320.32 L463.17,320.34 L463.81,320.35 L464.46,320.37 L465.14,320.38 L465.83,320.38 L466.53,320.39 L467.23,320.40 L467.93,320.40 L468.62,320.40 L469.31,320.40 L469.97,320.40 L470.61,320.40 L471.22,320.40 L471.80,320.40 L472.34,320.40 L472.83,320.40 L473.28,320.40 L473.67,320.40 L474.00,320.40" fill="none" stroke="#901530" stroke-width="1.25" stroke-linejoin="round" stroke-linecap="round"/>
<path d="M330.00,228.90 L330.54,228.92 L331.17,228.95 L331.87,228.98 L332.64,229.01 L333.48,229.05 L334.37,229.08 L335.32,229.12 L336.32,229.17 L337.36,229.21 L338.44,229.26 L339.55,229.30 L340.68,229.35 L341.83,229.40 L343.00,229.46 L344.18,229.51 L345.36,229.57 L346.54,229.62 L347.71,229.68 L348.86,229.74 L350.00,229.80 L351.15,229.86 L352.33,229.92 L353.56,229.99 L354.81,230.06 L356.09,230.13 L357.38,230.20 L358.70,230.27 L360.02,230.35 L361.36,230.42 L362.69,230.50 L364.02,230.58 L365.34,230.66 L366.64,230.74 L367.93,230.82 L369.20,230.90 L370.43,230.98 L371.64,231.06 L372.80,231.14 L373.92,231.22 L375.00,231.30 L376.03,231.38 L377.03,231.46 L378.00,231.54 L378.94,231.62 L379.85,231.70 L380.74,231.78 L381.60,231.86 L382.45,231.94 L383.28,232.02 L384.09,232.11 L384.90,232.19 L385.69,232.27 L386.48,232.36 L387.26,232.45 L388.04,232.54 L388.82,232.62 L389.61,232.72 L390.40,232.81 L391.19,232.90 L392.00,233.00 L392.81,233.10 L393.60,233.20 L394.39,233.29 L395.16,233.39 L395.93,233.49 L396.70,233.59 L397.46,233.70 L398.21,233.80 L398.97,233.91 L399.72,234.01 L400.47,234.12 L401.23,234.23 L401.99,234.34 L402.75,234.46 L403.52,234.57 L404.30,234.69 L405.08,234.82 L405.88,234.94 L406.68,235.07 L407.50,235.20 L408.33,235.33 L409.18,235.47 L410.04,235.62 L410.90,235.76 L411.78,235.91 L412.67,236.06 L413.56,236.21 L414.45,236.37 L415.35,236.53 L416.25,236.69 L417.15,236.85 L418.05,237.01 L418.94,237.17 L419.83,237.33 L420.72,237.50 L421.60,237.66 L422.46,237.82 L423.32,237.98 L424.17,238.14 L425.00,238.30 L425.82,238.46 L426.63,238.61 L427.42,238.77 L428.21,238.93 L428.99,239.08 L429.77,239.24 L430.53,239.39 L431.30,239.55 L432.06,239.71 L432.81,239.86 L433.57,240.02 L434.32,240.18 L435.08,240.34 L435.84,240.50 L436.60,240.66 L437.37,240.83 L438.14,240.99 L438.92,241.16 L439.70,241.33 L440.50,241.50 L441.30,241.67 L442.11,241.85 L442.91,242.03 L443.72,242.21 L444.54,242.39 L445.35,242.57 L446.17,242.76 L446.99,242.94 L447.82,243.13 L448.64,243.32 L449.47,243.51 L450.30,243.70 L451.13,243.89 L451.97,244.07 L452.80,244.26 L453.64,244.45 L454.48,244.64 L455.32,244.83 L456.16,245.01 L457.00,245.20 L457.86,245.39 L458.77,245.59 L459.71,245.79 L460.67,246.00 L461.65,246.21 L462.65,246.43 L463.65,246.64 L464.66,246.86 L465.65,247.07 L466.63,247.28 L467.59,247.49 L468.52,247.69 L469.42,247.88 L470.28,248.06 L471.09,248.24 L471.85,248.40 L472.55,248.55 L473.17,248.68 L473.73,248.80 L474.20,248.90" fill="none" stroke="#344d7a" stroke-width="1.3" stroke-linejoin="round" stroke-linecap="round"/>
<line x1="374.50" y1="226.20" x2="374.50" y2="244.40" stroke="#111" stroke-width="1.0"/>
<line x1="372.70" y1="226.20" x2="376.30" y2="226.20" stroke="#111" stroke-width="1.0"/>
<line x1="372.70" y1="244.40" x2="376.30" y2="244.40" stroke="#111" stroke-width="1.0"/>
<line x1="407.60" y1="266.00" x2="407.60" y2="271.00" stroke="#111" stroke-width="1.0"/>
<line x1="405.80" y1="266.00" x2="409.40" y2="266.00" stroke="#111" stroke-width="1.0"/>
<line x1="405.80" y1="271.00" x2="409.40" y2="271.00" stroke="#111" stroke-width="1.0"/>
<circle cx="330.40" cy="225.00" r="2.6" fill="#a8112e"/>
<circle cx="374.50" cy="238.00" r="2.6" fill="#a8112e"/>
<circle cx="407.60" cy="268.70" r="2.6" fill="#a8112e"/>
<circle cx="440.80" cy="319.60" r="2.6" fill="#a8112e"/>
<circle cx="473.80" cy="319.60" r="2.6" fill="#a8112e"/>
<rect x="405.30" y="266.40" width="4.60" height="4.60" fill="#a8112e" stroke="none" stroke-width="0" />
<line x1="374.50" y1="226.30" x2="374.50" y2="235.20" stroke="#14213d" stroke-width="1.0"/>
<line x1="372.70" y1="226.30" x2="376.30" y2="226.30" stroke="#14213d" stroke-width="1.0"/>
<line x1="372.70" y1="235.20" x2="376.30" y2="235.20" stroke="#14213d" stroke-width="1.0"/>
<line x1="407.70" y1="230.00" x2="407.70" y2="238.80" stroke="#14213d" stroke-width="1.0"/>
<line x1="405.90" y1="230.00" x2="409.50" y2="230.00" stroke="#14213d" stroke-width="1.0"/>
<line x1="405.90" y1="238.80" x2="409.50" y2="238.80" stroke="#14213d" stroke-width="1.0"/>
<line x1="440.70" y1="236.20" x2="440.70" y2="246.50" stroke="#14213d" stroke-width="1.0"/>
<line x1="438.90" y1="236.20" x2="442.50" y2="236.20" stroke="#14213d" stroke-width="1.0"/>
<line x1="438.90" y1="246.50" x2="442.50" y2="246.50" stroke="#14213d" stroke-width="1.0"/>
<line x1="474.20" y1="243.20" x2="474.20" y2="254.10" stroke="#14213d" stroke-width="1.0"/>
<line x1="472.40" y1="243.20" x2="476.00" y2="243.20" stroke="#14213d" stroke-width="1.0"/>
<line x1="472.40" y1="254.10" x2="476.00" y2="254.10" stroke="#14213d" stroke-width="1.0"/>
<rect x="327.95" y="226.85" width="4.90" height="4.90" fill="#2a4473" stroke="none" stroke-width="0" />
<rect x="372.05" y="228.35" width="4.90" height="4.90" fill="#2a4473" stroke="none" stroke-width="0" />
<rect x="405.25" y="232.15" width="4.90" height="4.90" fill="#2a4473" stroke="none" stroke-width="0" />
<rect x="438.25" y="239.05" width="4.90" height="4.90" fill="#2a4473" stroke="none" stroke-width="0" />
<rect x="471.75" y="246.45" width="4.90" height="4.90" fill="#2a4473" stroke="none" stroke-width="0" />
<circle cx="348.00" cy="293.00" r="2.8" fill="#a8112e"/>
<text x="353.50" y="295.90" font-size="8.4" text-anchor="start" font-weight="normal" fill="#1a1a1a" class="t" >JTE-013</text>
<rect x="345.60" y="302.40" width="4.80" height="4.80" fill="#2a4473" stroke="none" stroke-width="0" />
<text x="353.50" y="307.80" font-size="8.4" text-anchor="start" font-weight="normal" fill="#1a1a1a" class="t" >VPC-23019</text>
<text x="0" y="0" font-size="12.3" font-weight="bold" fill="#111" transform="translate(7.80,355.70) scale(0.87,1)">E</text>
<line x1="57.55" y1="360.80" x2="57.55" y2="488.55" stroke="#000" stroke-width="1.3"/>
<line x1="54.25" y1="488.55" x2="57.55" y2="488.55" stroke="#111" stroke-width="1.1"/>
<text x="51.40" y="491.45" font-size="7.8" text-anchor="end" font-weight="normal" fill="#1a1a1a" class="t" >0</text>
<line x1="54.25" y1="463.54" x2="57.55" y2="463.54" stroke="#111" stroke-width="1.1"/>
<text x="51.40" y="466.44" font-size="7.8" text-anchor="end" font-weight="normal" fill="#1a1a1a" class="t" >20</text>
<line x1="54.25" y1="438.53" x2="57.55" y2="438.53" stroke="#111" stroke-width="1.1"/>
<text x="51.40" y="441.43" font-size="7.8" text-anchor="end" font-weight="normal" fill="#1a1a1a" class="t" >40</text>
<line x1="54.25" y1="413.52" x2="57.55" y2="413.52" stroke="#111" stroke-width="1.1"/>
<text x="51.40" y="416.42" font-size="7.8" text-anchor="end" font-weight="normal" fill="#1a1a1a" class="t" >60</text>
<line x1="54.25" y1="388.51" x2="57.55" y2="388.51" stroke="#111" stroke-width="1.1"/>
<text x="51.40" y="391.41" font-size="7.8" text-anchor="end" font-weight="normal" fill="#1a1a1a" class="t" >80</text>
<line x1="54.25" y1="363.50" x2="57.55" y2="363.50" stroke="#111" stroke-width="1.1"/>
<text x="51.40" y="366.40" font-size="7.8" text-anchor="end" font-weight="normal" fill="#1a1a1a" class="t" >100</text>
<text x="0" y="0" font-size="9.9" text-anchor="middle" fill="#1a1a1a" class="t" transform="translate(29.10,424.40) rotate(-90) scale(0.9,1)" dominant-baseline="central">% survival (Annexin V -ve)</text>
<line x1="57.20" y1="488.55" x2="249.40" y2="488.55" stroke="#000" stroke-width="1.3"/>
<line x1="57.50" y1="488.55" x2="57.50" y2="491.85" stroke="#111" stroke-width="1.1"/>
<text x="57.50" y="502.20" font-size="8.0" text-anchor="middle" font-weight="normal" fill="#1a1a1a" class="t" >0</text>
<line x1="104.80" y1="488.55" x2="104.80" y2="491.85" stroke="#111" stroke-width="1.1"/>
<text x="104.80" y="502.20" font-size="8.0" text-anchor="middle" font-weight="normal" fill="#1a1a1a" class="t" >0.3</text>
<line x1="151.40" y1="488.55" x2="151.40" y2="491.85" stroke="#111" stroke-width="1.1"/>
<text x="151.40" y="502.20" font-size="8.0" text-anchor="middle" font-weight="normal" fill="#1a1a1a" class="t" >1</text>
<line x1="197.70" y1="488.55" x2="197.70" y2="491.85" stroke="#111" stroke-width="1.1"/>
<text x="197.70" y="502.20" font-size="8.0" text-anchor="middle" font-weight="normal" fill="#1a1a1a" class="t" >3</text>
<line x1="245.30" y1="488.55" x2="245.30" y2="491.85" stroke="#111" stroke-width="1.1"/>
<text x="245.30" y="502.20" font-size="8.0" text-anchor="middle" font-weight="normal" fill="#1a1a1a" class="t" >10</text>
<text x="153.60" y="516.30" font-size="9.2" text-anchor="middle" font-weight="normal" fill="#1a1a1a" class="t" >[JTE-013] (µM)</text>
<path d="M58.00,378.80 L59.73,378.80 L61.79,378.80 L64.15,378.80 L66.78,378.80 L69.66,378.80 L72.74,378.80 L75.99,378.80 L79.39,378.80 L82.91,378.80 L86.50,378.80 L90.14,378.80 L93.81,378.80 L97.46,378.80 L101.06,378.80 L104.59,378.80 L108.02,378.80 L111.30,378.80 L114.41,378.80 L117.32,378.80 L120.00,378.80 L122.51,378.80 L124.96,378.80 L127.34,378.80 L129.65,378.79 L131.90,378.79 L134.09,378.79 L136.22,378.78 L138.30,378.78 L140.33,378.78 L142.31,378.77 L144.25,378.77 L146.14,378.77 L147.98,378.77 L149.80,378.77 L151.57,378.77 L153.31,378.77 L155.02,378.78 L156.71,378.78 L158.36,378.79 L160.00,378.80 L161.61,378.81 L163.18,378.81 L164.73,378.81 L166.23,378.80 L167.70,378.79 L169.14,378.78 L170.54,378.78 L171.90,378.77 L173.22,378.76 L174.50,378.76 L175.74,378.77 L176.94,378.78 L178.10,378.79 L179.22,378.82 L180.30,378.85 L181.33,378.90 L182.31,378.95 L183.26,379.02 L184.15,379.10 L185.00,379.20 L185.78,379.31 L186.49,379.42 L187.13,379.54 L187.70,379.67 L188.22,379.80 L188.68,379.94 L189.10,380.09 L189.47,380.25 L189.81,380.42 L190.12,380.59 L190.41,380.78 L190.69,380.98 L190.95,381.19 L191.21,381.41 L191.47,381.64 L191.74,381.88 L192.02,382.14 L192.32,382.41 L192.64,382.70 L193.00,383.00 L193.37,383.32 L193.74,383.67 L194.10,384.05 L194.46,384.45 L194.82,384.86 L195.17,385.30 L195.52,385.75 L195.87,386.21 L196.22,386.67 L196.56,387.14 L196.91,387.62 L197.25,388.09 L197.59,388.56 L197.93,389.02 L198.27,389.48 L198.62,389.92 L198.96,390.34 L199.30,390.75 L199.65,391.14 L200.00,391.50 L200.35,391.85 L200.71,392.19 L201.07,392.52 L201.43,392.85 L201.80,393.18 L202.16,393.49 L202.53,393.80 L202.90,394.10 L203.26,394.40 L203.62,394.68 L203.99,394.96 L204.34,395.22 L204.70,395.48 L205.05,395.73 L205.39,395.97 L205.73,396.20 L206.06,396.42 L206.38,396.62 L206.70,396.82 L207.00,397.00 L207.30,397.17 L207.58,397.32 L207.86,397.46 L208.13,397.59 L208.39,397.70 L208.64,397.81 L208.89,397.90 L209.14,397.98 L209.38,398.06 L209.62,398.12 L209.85,398.19 L210.09,398.24 L210.32,398.29 L210.56,398.34 L210.79,398.38 L211.03,398.43 L211.26,398.47 L211.50,398.51 L211.75,398.55 L212.00,398.60 L212.26,398.64 L212.53,398.68 L212.81,398.72 L213.10,398.75 L213.39,398.77 L213.68,398.80 L213.98,398.81 L214.28,398.83 L214.57,398.84 L214.86,398.85 L215.15,398.86 L215.42,398.86 L215.69,398.87 L215.94,398.87 L216.18,398.88 L216.40,398.88 L216.61,398.88 L216.80,398.89 L216.96,398.89 L217.10,398.90" fill="none" stroke="#901530" stroke-width="1.25" stroke-linejoin="round" stroke-linecap="round"/>
<path d="M58.00,400.24 L60.70,400.43 L63.39,400.61 L66.09,400.79 L68.79,400.96 L71.48,401.12 L74.18,401.28 L76.88,401.44 L79.57,401.60 L82.27,401.77 L84.97,401.94 L87.66,402.11 L90.36,402.30 L93.06,402.50 L95.75,402.71 L98.45,402.94 L101.15,403.18 L103.84,403.45 L106.54,403.75 L109.24,404.07 L111.93,404.42 L114.63,404.80 L117.33,405.21 L120.02,405.67 L122.72,406.17 L125.42,406.71 L128.11,407.30 L130.81,407.94 L133.51,408.64 L136.20,409.39 L138.90,410.20 L141.59,411.08 L144.29,412.03 L146.99,413.05 L149.68,414.15 L152.38,415.32 L155.08,416.58 L157.77,417.93 L160.47,419.37 L163.17,420.90 L165.86,422.54 L168.56,424.28 L171.26,426.13 L173.95,428.09 L176.65,430.17 L179.35,432.37 L182.04,434.69 L184.74,437.15 L187.44,439.75 L190.13,442.49 L192.83,445.37 L195.53,448.40 L198.22,451.59 L200.92,454.94 L203.62,458.46 L206.31,462.15 L209.01,466.02 L211.71,470.06 L214.40,474.30 L217.10,478.73" fill="none" stroke="#253c68" stroke-width="1.3" stroke-linejoin="round" stroke-linecap="round"/>
<line x1="189.10" y1="376.50" x2="189.10" y2="382.80" stroke="#111" stroke-width="1.0"/>
<line x1="187.30" y1="376.50" x2="190.90" y2="376.50" stroke="#111" stroke-width="1.0"/>
<line x1="187.30" y1="382.80" x2="190.90" y2="382.80" stroke="#111" stroke-width="1.0"/>
<circle cx="57.60" cy="377.10" r="2.6" fill="#a8112e"/>
<circle cx="123.30" cy="381.10" r="2.6" fill="#a8112e"/>
<circle cx="151.50" cy="378.10" r="2.6" fill="#a8112e"/>
<circle cx="189.10" cy="379.70" r="2.6" fill="#a8112e"/>
<circle cx="217.10" cy="398.80" r="2.6" fill="#a8112e"/>
<rect x="55.30" y="396.00" width="4.60" height="4.60" fill="#2a4473" stroke="none" stroke-width="0" />
<rect x="121.00" y="408.50" width="4.60" height="4.60" fill="#2a4473" stroke="none" stroke-width="0" />
<rect x="121.00" y="411.70" width="4.60" height="4.60" fill="#2a4473" stroke="none" stroke-width="0" />
<rect x="149.20" y="409.90" width="4.60" height="4.60" fill="#2a4473" stroke="none" stroke-width="0" />
<rect x="186.80" y="443.30" width="4.60" height="4.60" fill="#2a4473" stroke="none" stroke-width="0" />
<rect x="214.80" y="476.20" width="4.60" height="4.60" fill="#2a4473" stroke="none" stroke-width="0" />
<circle cx="76.30" cy="459.50" r="2.8" fill="#a8112e"/>
<text x="82.00" y="462.40" font-size="8.4" text-anchor="start" font-weight="normal" fill="#1a1a1a" class="t" >Nil</text>
<rect x="73.90" y="469.60" width="4.80" height="4.80" fill="#2a4473" stroke="none" stroke-width="0" />
<text x="82.00" y="474.90" font-size="8.4" text-anchor="start" font-weight="normal" fill="#1a1a1a" class="t" >ABT-737</text>
<rect x="0.00" y="0.00" width="520.00" height="1.40" fill="#000" stroke="none" stroke-width="0" />
<rect x="0.00" y="0.00" width="1.30" height="526.00" fill="#000" stroke="none" stroke-width="0" />
<rect x="518.30" y="0.00" width="1.70" height="526.00" fill="#000" stroke="none" stroke-width="0" />
<rect x="0.00" y="524.20" width="520.00" height="1.80" fill="#000" stroke="none" stroke-width="0" />
</svg>
</body></html>
